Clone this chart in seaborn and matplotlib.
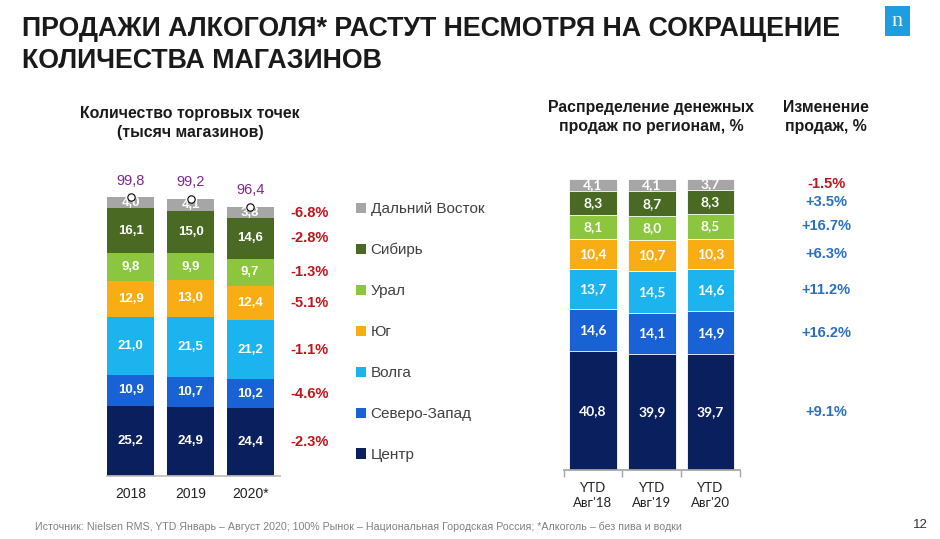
import matplotlib
matplotlib.use("Agg")
import matplotlib.pyplot as plt
import seaborn as sns
import numpy as np
from matplotlib.patches import Patch, Rectangle

# --- data ---
regions = ['Центр', 'Северо-Запад', 'Волга', 'Юг', 'Урал', 'Сибирь', 'Дальний Восток']
colors = ['#0a1f5e', '#1862d6', '#1cb4ee', '#f9ad14', '#8cc63f', '#4a6a24', '#a6a6a6']

years = ['2018', '2019', '2020*']
stores_2018 = [25.2, 10.9, 21.0, 12.9, 9.8, 16.1, 4.0]
stores_2019 = [24.9, 10.7, 21.5, 13.0, 9.9, 15.0, 4.1]
stores_2020 = [24.4, 10.2, 21.2, 12.4, 9.7, 14.6, 3.8]
stores_total = [99.8, 99.2, 96.4]
stores_change = ['-2.3%', '-4.6%', '-1.1%', '-5.1%', '-1.3%', '-2.8%', '-6.8%']

periods = ["YTD\nАвг'18", "YTD\nАвг'19", "YTD\nАвг'20"]
sales_ytd18 = [40.8, 14.6, 13.7, 10.4, 8.1, 8.3, 4.1]
sales_ytd19 = [39.9, 14.1, 14.5, 10.7, 8.0, 8.7, 4.1]
sales_ytd20 = [39.7, 14.9, 14.6, 10.3, 8.5, 8.3, 3.7]
sales_change = ['+9.1%', '+16.2%', '+11.2%', '+6.3%', '+16.7%', '+3.5%', '-1.5%']

sns.set_theme(style='white')
plt.rcParams['font.family'] = ['Liberation Sans', 'DejaVu Sans']

W, H = 940, 539
fig = plt.figure(figsize=(W / 100, H / 100), dpi=100)


def px_axes(left, right, bottom, top):
    return fig.add_axes([left / W, 1 - bottom / H, (right - left) / W, (bottom - top) / H])


def stacked(ax, cats, cols, width, edge, lw, font, size):
    mat = np.array(cols).T  # regions x categories
    cum = np.cumsum(mat, axis=0)
    # seaborn stacked bars: draw cumulative totals from the top layer down
    for i in range(len(regions) - 1, -1, -1):
        sns.barplot(x=cats, y=cum[i], color=colors[i], saturation=1, width=width,
                    errorbar=None, edgecolor=edge, linewidth=lw, ax=ax)
    for i in range(len(regions)):
        for j in range(len(cats)):
            v = mat[i, j]
            ax.text(j, cum[i, j] - v / 2, f"{v:.1f}".replace('.', ','), ha='center', va='center',
                    color='white', fontsize=size, fontweight='bold', family=font)
    return mat, cum


# --- left chart: number of stores ---
axl = px_axes(107, 280, 476, 169)
mat_l, cum_l = stacked(axl, years, [stores_2018, stores_2019, stores_2020], 0.79, 'none', 0,
                       ['Liberation Sans', 'DejaVu Sans'], 9.5)
axl.set_xlim(-0.4, 2.5)
axl.set_ylim(0, 110)
axl.scatter(range(len(years)), stores_total, s=28, facecolor='white', edgecolor='black',
            linewidth=0.8, zorder=5)
for j, t in enumerate(stores_total):
    axl.annotate(f"{t:.1f}".replace('.', ','), (j, t), xytext=(0, 7), textcoords='offset points',
                 ha='center', va='bottom', color='#7a2a8c', fontsize=10.5)
for i, lab in enumerate(stores_change):
    axl.text(3.0, cum_l[i, 2] - mat_l[i, 2] / 2, lab, ha='center', va='center',
             color='#c0141c', fontsize=10.5, fontweight='bold', clip_on=False)
for s in ['left', 'right', 'top']:
    axl.spines[s].set_visible(False)
axl.spines['bottom'].set_color('#bfbfbf')
axl.set_yticks([])
axl.set_xlabel('')
axl.set_ylabel('')
axl.tick_params(axis='x', length=0, pad=8, labelsize=10, labelcolor='#222222')

# --- right chart: value share by region ---
axr = px_axes(563.6, 740, 470, 179)
mat_r, cum_r = stacked(axr, periods, [sales_ytd18, sales_ytd19, sales_ytd20], 0.81, 'white', 0.6,
                       ['Lato', 'DejaVu Sans'], 10)
axr.set_xlim(-0.5, 2.5)
axr.set_ylim(0, 100)
for i, lab in enumerate(sales_change):
    axr.text(3.97, cum_r[i, 2] - mat_r[i, 2] / 2, lab, ha='center', va='center',
             color='#c0141c' if lab.startswith('-') else '#2a6fc0',
             fontsize=10.5, fontweight='bold', clip_on=False)
for s in ['left', 'right', 'top']:
    axr.spines[s].set_visible(False)
axr.spines['bottom'].set_color('#a6a6a6')
axr.set_yticks([])
axr.set_xlabel('')
axr.set_ylabel('')
axr.set_xticks([-0.5, 0.5, 1.5, 2.5], minor=True)
axr.tick_params(axis='x', which='minor', bottom=True, length=5, color='#a6a6a6', direction='out')
axr.tick_params(axis='x', which='major', length=0, pad=9, labelsize=9.5, labelcolor='#222222')
for t in axr.get_xticklabels():
    t.set_family(['Lato', 'DejaVu Sans'])
    t.set_linespacing(1.25)

# --- legend ---
handles = [Patch(facecolor=colors[i], edgecolor='none') for i in range(len(regions) - 1, -1, -1)]
fig.legend(handles, regions[::-1], loc='upper left', bbox_to_anchor=(350 / W, 1 - 196 / H),
           frameon=False, fontsize=11, handlelength=0.65, handleheight=0.65, handletextpad=0.3,
           labelspacing=1.76, labelcolor='#404040', borderaxespad=0)

# --- texts ---
fig.text(22 / W, 1 - 45 / H, 'ПРОДАЖИ АЛКОГОЛЯ* РАСТУТ НЕСМОТРЯ НА СОКРАЩЕНИЕ\nКОЛИЧЕСТВА МАГАЗИНОВ',
         ha='left', va='center', fontsize=19.3, fontweight='bold', color='#1a1a1a', linespacing=1.32)
fig.text(190 / W, 1 - 123 / H, 'Количество торговых точек\n(тысяч магазинов)', ha='center',
         va='center', fontsize=11.4, fontweight='bold', color='#1a1a1a', linespacing=1.3)
fig.text(651 / W, 1 - 117 / H, 'Распределение денежных\nпродаж по регионам, %', ha='center',
         va='center', fontsize=11.4, fontweight='bold', color='#1a1a1a', linespacing=1.3)
fig.text(826 / W, 1 - 117 / H, 'Изменение\nпродаж, %', ha='center', va='center',
         fontsize=11.4, fontweight='bold', color='#1a1a1a', linespacing=1.3)
fig.text(35 / W, 1 - 527 / H,
         'Источник: Nielsen RMS, YTD Январь – Август 2020; 100% Рынок – Национальная Городская Россия; '
         '*Алкоголь – без пива и водки',
         ha='left', va='center', fontsize=7.7, color='#808080',
         family=['Liberation Sans Narrow', 'Liberation Sans', 'DejaVu Sans'])
fig.text(920 / W, 1 - 525 / H, '12', ha='center', va='center', fontsize=9.5, color='#333333')

# nielsen logo
fig.patches.append(Rectangle((885 / W, 1 - 36 / H), 25 / W, 30 / H, transform=fig.transFigure,
                             facecolor='#1e9ee0', edgecolor='none'))
fig.text(897.5 / W, 1 - 22 / H, 'n', ha='center', va='center', fontsize=16, color='white',
         family=['Liberation Serif', 'DejaVu Serif'])

fig.savefig('out.png', dpi=100)
